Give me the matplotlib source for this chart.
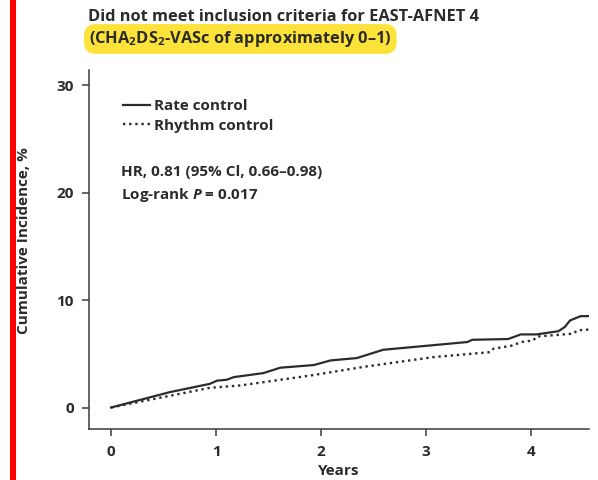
import matplotlib
matplotlib.use("Agg")
import matplotlib.pyplot as plt
from matplotlib.lines import Line2D
from matplotlib.patches import Rectangle

plt.rcParams['font.family'] = ['Open Sans', 'DejaVu Sans']
plt.rcParams['font.weight'] = 'bold'
plt.rcParams['mathtext.fontset'] = 'custom'
plt.rcParams['mathtext.rm'] = 'Open Sans:bold'
plt.rcParams['mathtext.it'] = 'Open Sans:italic:bold'
plt.rcParams['mathtext.bf'] = 'Open Sans:bold'

INK = '#2b2b2b'

# Cumulative incidence (%) over follow-up (years)
rate_years = [0.0, 0.56, 0.94, 1.01, 1.10, 1.17, 1.45, 1.61, 1.93, 2.09, 2.34, 2.47,
              2.59, 3.39, 3.44, 3.78, 3.90, 4.05, 4.26, 4.32, 4.37, 4.47, 4.56]
rate_incidence = [0.0, 1.43, 2.2, 2.5, 2.58, 2.83, 3.2, 3.7, 3.95, 4.38, 4.6, 5.0,
                  5.37, 6.09, 6.3, 6.37, 6.8, 6.8, 7.1, 7.5, 8.1, 8.5, 8.5]
rhythm_years = [0.0, 0.94, 1.23, 1.90, 2.43, 3.07, 3.61, 3.64, 3.83, 3.90, 4.02,
                4.05, 4.40, 4.44, 4.58]
rhythm_incidence = [0.0, 1.83, 2.05, 2.98, 3.82, 4.69, 5.15, 5.47, 5.78, 6.09, 6.24,
                    6.6, 6.87, 7.18, 7.27]

x_ticks = [0, 1, 2, 3, 4]
y_ticks = [0, 10, 20, 30]

FS = 11

fig = plt.figure(figsize=(5.98, 4.8), dpi=100)
fig.patch.set_facecolor('white')

# red accent bar along the left edge
fig.add_artist(Rectangle((10 / 598, 0), 5.5 / 598, 1, transform=fig.transFigure,
                         facecolor='#ff0000', edgecolor='none'))

ax = fig.add_axes([89 / 598, 51 / 480, 500 / 598, 359 / 480])

ax.plot(rate_years, rate_incidence, color=INK, lw=1.6, solid_joinstyle='round',
        label='Rate control')
ax.plot(rhythm_years, rhythm_incidence, color=INK, lw=1.7,
        linestyle=(0, (1, 1.6)), label='Rhythm control')

ax.set_xlim(-0.21, 4.55)
ax.set_ylim(-2.0, 31.4)
ax.set_xticks(x_ticks)
ax.set_yticks(y_ticks)
for s in ('top', 'right'):
    ax.spines[s].set_visible(False)
for s in ('left', 'bottom'):
    ax.spines[s].set_color('#3a3a3a')
    ax.spines[s].set_linewidth(1.1)
ax.tick_params(axis='both', direction='out', length=5, width=1.1, color='#3a3a3a',
               labelsize=FS, labelcolor=INK)
ax.tick_params(axis='x', pad=6.5)
ax.tick_params(axis='y', pad=6)
for lbl in ax.get_xticklabels() + ax.get_yticklabels():
    lbl.set_fontweight('bold')

ax.set_xlabel('Years', fontsize=FS, fontweight='bold', color=INK, va='center')
ax.xaxis.set_label_coords(0.5, -0.116)
ax.set_ylabel('Cumulative Incidence, %', fontsize=FS, fontweight='bold',
              color=INK)
ax.yaxis.set_label_coords(-0.116, 0.526)

handles = [Line2D([], [], color=INK, lw=1.6),
           Line2D([], [], color=INK, lw=1.7, linestyle=(0, (1, 1.6)))]
ax.legend(handles, ['Rate control', 'Rhythm control'], loc='upper left',
          bbox_to_anchor=(0.068, 0.918), frameon=False, handlelength=1.75,
          handletextpad=0.3, labelspacing=0.35, borderaxespad=0, borderpad=0,
          prop={'size': FS, 'weight': 'bold'}, labelcolor=INK)

ax.text(0.064, 0.716, 'HR, 0.81 (95% Cl, 0.66–0.98)', transform=ax.transAxes,
        fontsize=FS, fontweight='bold', color=INK, va='center', ha='left')
ax.text(0.064, 0.652, 'Log-rank $P$ = 0.017', transform=ax.transAxes,
        fontsize=FS, fontweight='bold', color=INK, va='center', ha='left')

fig.text(88 / 598, 1 - 17 / 480, 'Did not meet inclusion criteria for EAST-AFNET 4',
         fontsize=11.8, fontweight='bold', color=INK, va='center', ha='left')
fig.text(89 / 598, 1 - 39 / 480, '(CHA$_2$DS$_2$-VASc of approximately 0–1)',
         fontsize=11.8, fontweight='bold', color=INK, va='center', ha='left',
         bbox=dict(boxstyle='round,pad=0.3,rounding_size=0.7',
                   facecolor='#fde23a', edgecolor='none'))

fig.savefig('out.png', dpi=100)
